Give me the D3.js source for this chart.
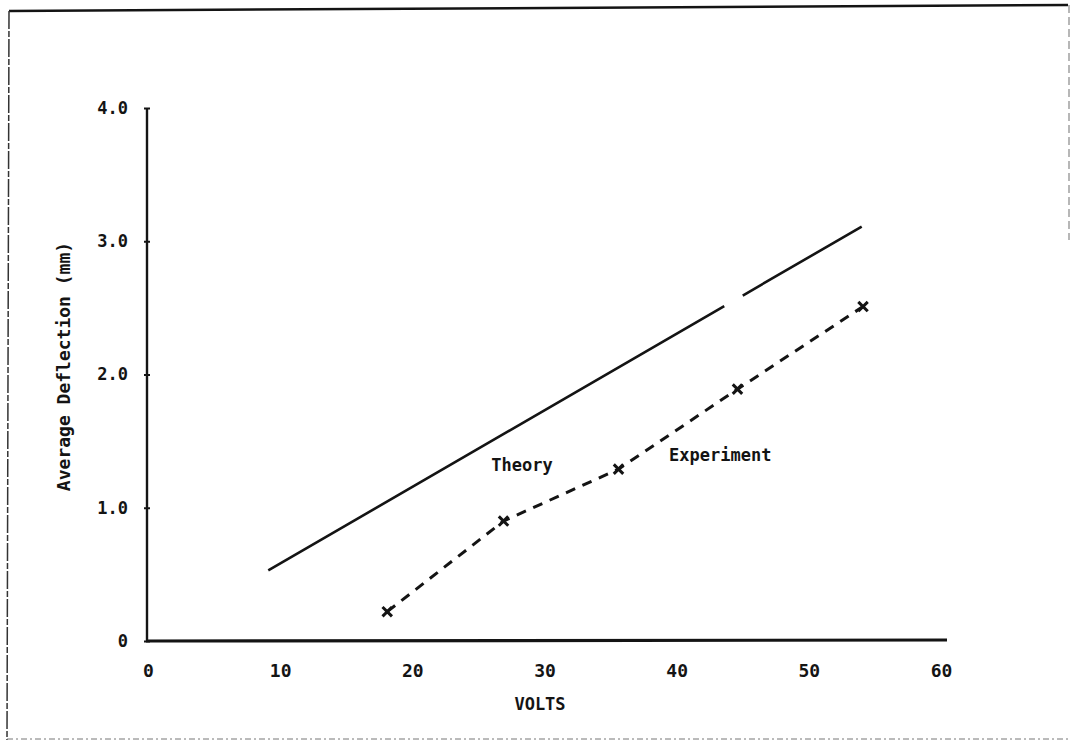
<!DOCTYPE html>
<html>
<head>
<meta charset="utf-8">
<script src="https://cdn.jsdelivr.net/npm/d3@7"></script>
<style>
  html, body { margin: 0; padding: 0; background: #fff; }
  svg { display: block; }
  text { font-family: "DejaVu Sans Mono", "Liberation Mono", monospace; font-weight: bold; fill: #141414; }
</style>
</head>
<body>
<svg id="chart" width="1071" height="742"></svg>
<script>
// Average deflection versus applied voltage: theory and experiment
const xTicks = [0, 10, 20, 30, 40, 50, 60];
const yTicks = [0, 1, 2, 3, 4];
const yTickLabels = ["0", "1.0", "2.0", "3.0", "4.0"];

const theoryVolts = [9.1, 54.0];
const theoryDeflection = [0.53, 3.11];

const experimentVolts = [18.1, 26.9, 35.6, 44.6, 54.1];
const experimentDeflection = [0.22, 0.90, 1.29, 1.89, 2.51];

const xTitle = "VOLTS";
const yTitle = "Average Deflection (mm)";
const theoryLabel = "Theory";
const experimentLabel = "Experiment";

const ink = "#141414";
const svg = d3.select("#chart");

const x = d3.scaleLinear().domain([0, 60]).range([148, 941]);
const y = d3.scaleLinear().domain([0, 4]).range([641, 108]);

// outer frame of the figure
const frame = svg.append("g");
frame.append("line").attr("x1", 9).attr("y1", 11).attr("x2", 1068).attr("y2", 5)
  .attr("stroke", ink).attr("stroke-width", 2.5);
frame.append("line").attr("x1", 9).attr("y1", 11).attr("x2", 7).attr("y2", 740)
  .attr("stroke", "#333").attr("stroke-width", 1.5).attr("stroke-dasharray", "18,2,6,2");
frame.append("line").attr("x1", 1069).attr("y1", 5).attr("x2", 1069).attr("y2", 240)
  .attr("stroke", "#888").attr("stroke-width", 1.2).attr("stroke-dasharray", "8,4");
frame.append("line").attr("x1", 7).attr("y1", 739).attr("x2", 1069).attr("y2", 739)
  .attr("stroke", "#777").attr("stroke-width", 1).attr("stroke-dasharray", "6,3,2,3");

// x axis
const xAxis = d3.axisBottom(x).tickValues(xTicks).tickSize(0).tickPadding(0)
  .tickFormat(d3.format("d"));
const gx = svg.append("g").attr("transform", `translate(0,${y(0)})`).call(xAxis);
gx.select(".domain").remove();
gx.selectAll("text").attr("font-size", 18).attr("dy", 0).attr("y", 36)
  .style("font-family", "DejaVu Sans Mono").style("font-weight", "bold").attr("fill", ink);
svg.append("line")
  .attr("x1", x(0) - 2).attr("x2", x(60) + 6)
  .attr("y1", y(0)).attr("y2", y(0) - 1)
  .attr("stroke", ink).attr("stroke-width", 3.2);

// y axis
const yAxis = d3.axisLeft(y).tickValues(yTicks).tickSize(3).tickPadding(16)
  .tickFormat((d, i) => yTickLabels[i]);
const gy = svg.append("g").attr("transform", `translate(${x(0) - 1},0)`).call(yAxis);
gy.select(".domain").remove();
gy.selectAll(".tick line").attr("x2", 3).attr("x1", -3).attr("stroke", ink).attr("stroke-width", 2);
gy.selectAll("text").attr("font-size", 17).attr("fill", ink)
  .style("font-family", "DejaVu Sans Mono").style("font-weight", "bold");
svg.append("line")
  .attr("x1", x(0) - 1).attr("x2", x(0) - 1)
  .attr("y1", y(4)).attr("y2", y(0))
  .attr("stroke", ink).attr("stroke-width", 2.4);

// axis titles
svg.append("text").attr("x", 540).attr("y", 710)
  .attr("text-anchor", "middle").attr("font-size", 17).text(xTitle);
svg.append("text")
  .attr("transform", `translate(70,${(y(0) + y(4)) / 2 - 8}) rotate(-90)`)
  .attr("text-anchor", "middle").attr("font-size", 18).text(yTitle);

// theory curve, with the short break in the printed line
const theoryPts = theoryVolts.map((v, i) => [x(v), y(theoryDeflection[i])]);
const lineGen = d3.line();
const theoryPath = svg.append("path")
  .attr("d", lineGen(theoryPts))
  .attr("fill", "none").attr("stroke", ink).attr("stroke-width", 2.6);
const totalLen = theoryPath.node().getTotalLength();
const dxTotal = theoryPts[1][0] - theoryPts[0][0];
const gapStart = (x(43.6) - theoryPts[0][0]) / dxTotal * totalLen;
const gapEnd = (x(45.0) - theoryPts[0][0]) / dxTotal * totalLen;
theoryPath.attr("stroke-dasharray", `${gapStart},${gapEnd - gapStart},${totalLen}`);

// experiment curve
const expPts = experimentVolts.map((v, i) => [x(v), y(experimentDeflection[i])]);
svg.append("path")
  .attr("d", d3.line().curve(d3.curveLinear)(expPts))
  .attr("fill", "none").attr("stroke", ink).attr("stroke-width", 3)
  .attr("stroke-dasharray", "10,8");
svg.selectAll(".mark").data(expPts).join("path")
  .attr("class", "mark")
  .attr("transform", d => `translate(${d[0]},${d[1]})`)
  .attr("d", d3.symbol(d3.symbolX, 60)())
  .attr("fill", "none").attr("stroke", ink).attr("stroke-width", 3);

// curve labels
svg.append("text").attr("x", x(28.3)).attr("y", 471)
  .attr("text-anchor", "middle").attr("font-size", 17).text(theoryLabel);
svg.append("text").attr("x", x(43.3)).attr("y", 461)
  .attr("text-anchor", "middle").attr("font-size", 17).text(experimentLabel);
</script>
</body>
</html>
